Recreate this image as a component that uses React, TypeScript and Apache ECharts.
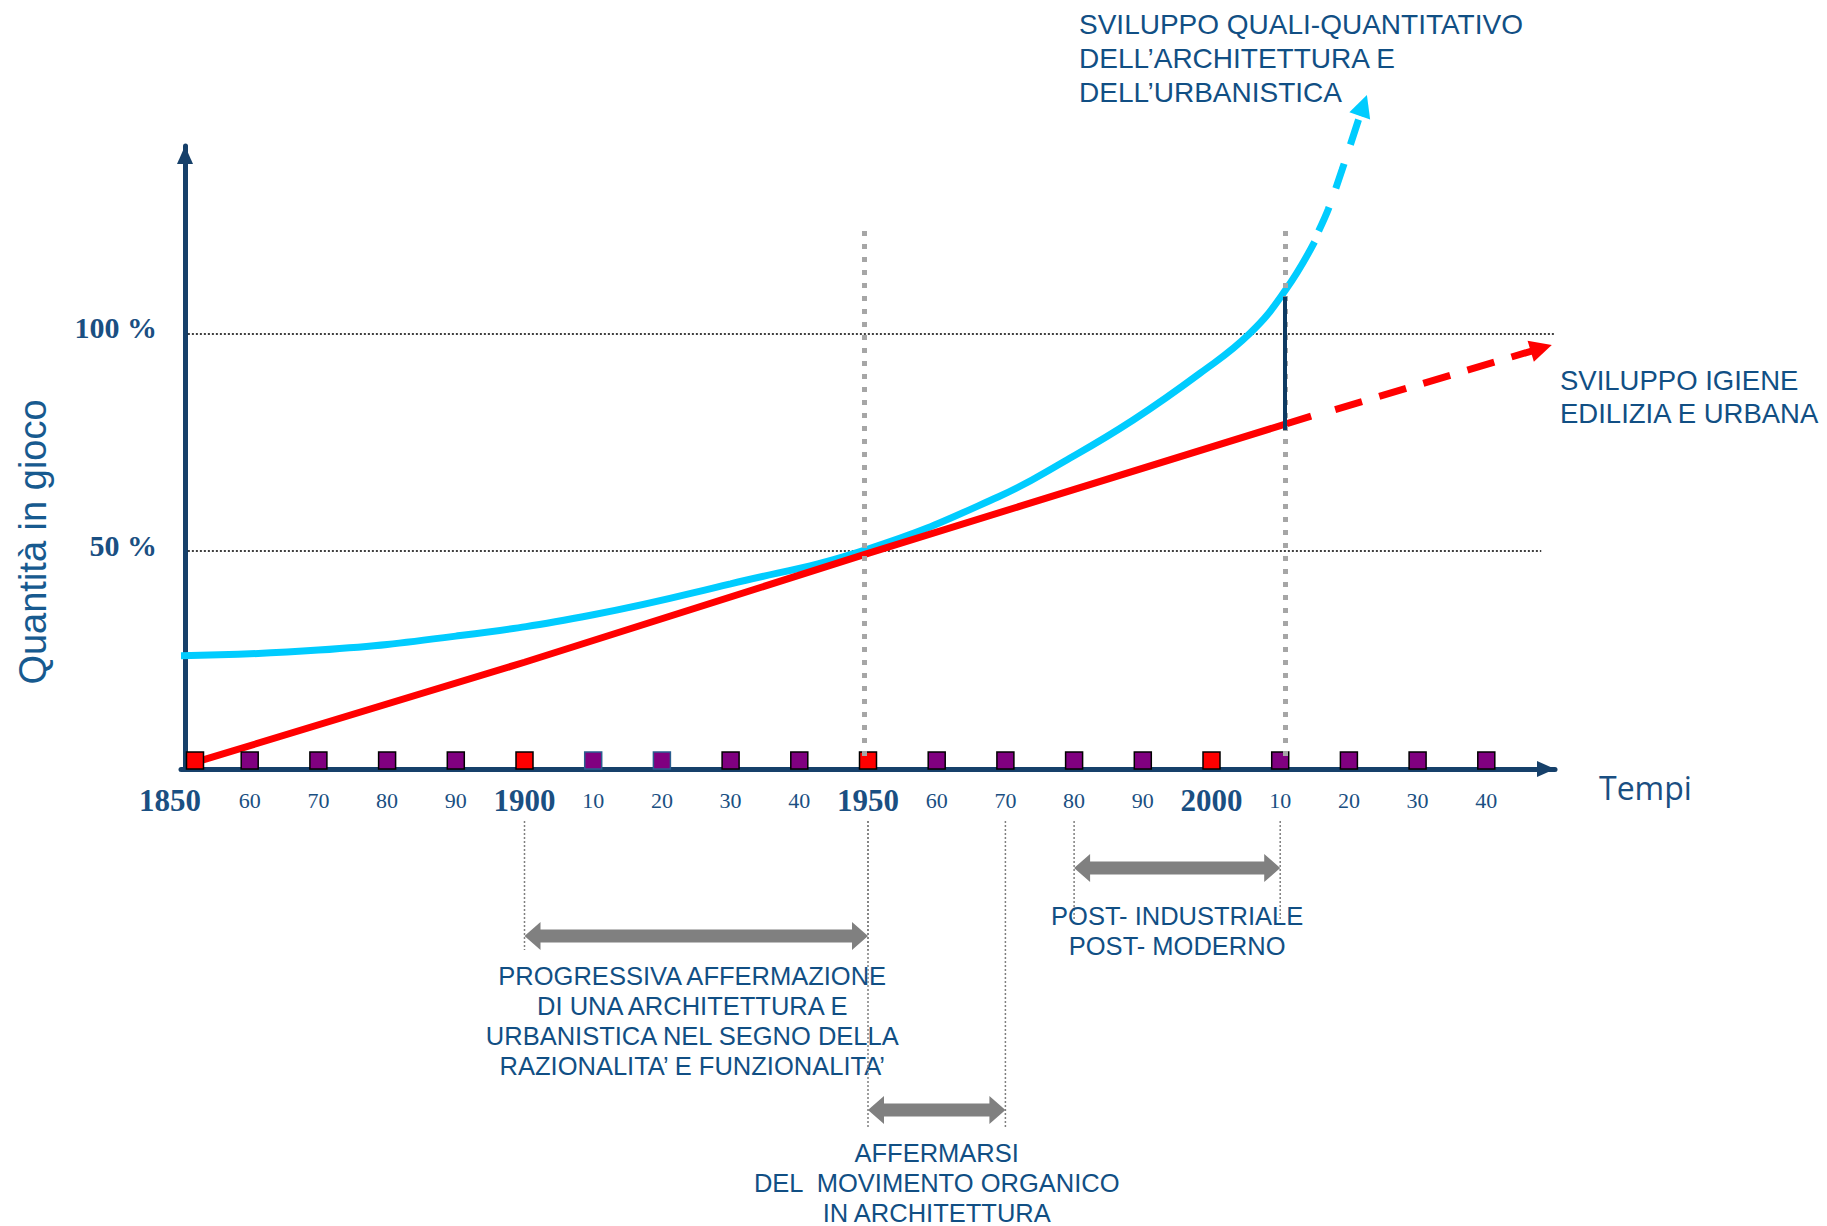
import React, { useEffect, useRef } from "react";
import * as echarts from "echarts";

// ---------- data ----------
const DECADES = [1850, 1860, 1870, 1880, 1890, 1900, 1910, 1920, 1930, 1940, 1950, 1960, 1970, 1980, 1990, 2000, 2010, 2020, 2030, 2040];
const MAJOR_YEARS = [1850, 1900, 1950, 2000];
const SOFT_BORDER_YEARS = [1910, 1920];
const Y_TICKS = [50, 100];

// red: igiene edilizia e urbana
const RED_SOLID: [number, number][] = [[1852, 1.5], [1900, 24.5], [1950, 49.5], [2014.5, 81]];
const RED_DASHED: [number, number][] = [[2018, 82.5], [2048, 96.6]];

// blue: sviluppo quali-quantitativo
const BLUE_SOLID: [number, number][] = [
  [1850, 26], [1870, 27.3], [1890, 30.5], [1910, 35.4], [1930, 42.5], [1950, 50.5],
  [1969, 62.5], [1979, 71], [1988.6, 80.1], [1998.3, 90.8], [2005.6, 100], [2010.8, 110], [2015, 121],
];
const BLUE_DASHED: [number, number][] = [[2015.6, 123.5], [2017, 128.5], [2019, 137.5], [2021.6, 150]];
const BLUE_HEAD: [number, number][] = [[2021.6, 150], [2022.1, 152.3]];

const MILESTONES = [1949.4, 2010.7];
const MILESTONE_RANGE = [3, 124];
const GAP_YEAR = 2010.7;
const GAP_RANGE = [77.8, 108.4];

const PERIOD_START = [1900, 1950, 1980];
const PERIOD_END = [1950, 1970, 2010];
const PERIOD_TEXT = [
  "PROGRESSIVA AFFERMAZIONE\nDI UNA ARCHITETTURA E\nURBANISTICA NEL SEGNO DELLA\nRAZIONALITA’ E FUNZIONALITA’",
  "AFFERMARSI\nDEL  MOVIMENTO ORGANICO\nIN ARCHITETTURA",
  "POST- INDUSTRIALE\nPOST- MODERNO",
];

// ---------- styles / layout ----------
const NAVY = "#16406a";
const BLUE = "#00CCFF";
const RED = "#FF0000";
const PURPLE = "#800080";
const TEXT_BLUE = "#114f84";
const LABEL_BLUE = "#1a4f82";
const SANS = '"Liberation Sans", Arial, sans-serif';
const SERIF = '"Liberation Serif", "Times New Roman", serif';

const PERIOD_LAYOUT = [
  { arrowY: 936, guideTop: 821, guideBottom: 950, textTop: 961, dx: -4 },
  { arrowY: 1110, guideTop: 821, guideBottom: 1127, textTop: 1138, dx: 0 },
  { arrowY: 868, guideTop: 821, guideBottom: 920, textTop: 901, dx: 0 },
];

function buildOption(): any {
  const squares = DECADES.map((y) => ({
    value: [y, 0],
    symbolOffset: y === DECADES[0] ? [14, -8.5] : [0, -8.5],
    itemStyle: {
      color: MAJOR_YEARS.includes(y) ? RED : PURPLE,
      borderColor: SOFT_BORDER_YEARS.includes(y) ? "#2a5d8f" : "#000",
      borderWidth: 1.5,
      opacity: 1,
    },
  }));

  const periods = PERIOD_START.map((s, i) => [s, PERIOD_END[i]]);

  return {
    animation: false,
    backgroundColor: "#ffffff",
    grid: { left: 181, top: 146, width: 1374, height: 623 },
    xAxis: {
      type: "value",
      min: 1850,
      max: 2050,
      interval: 10,
      axisLine: {
        show: true,
        onZero: false,
        symbol: ["none", "triangle"],
        symbolSize: [16, 18],
        symbolOffset: [0, -9],
        lineStyle: { color: NAVY, width: 5 },
      },
      axisTick: { show: false },
      splitLine: { show: false },
      axisLabel: {
        margin: 13,
        showMinLabel: true,
        showMaxLabel: true,
        formatter: (v: number) =>
          v >= 2050
            ? ""
            : v === DECADES[0]
            ? `{f|${v}}`
            : MAJOR_YEARS.includes(v)
            ? `{b|${v}}`
            : `{s|${v % 100}}`,
        rich: {
          f: { fontFamily: SERIF, fontWeight: "bold", fontSize: 31, color: LABEL_BLUE, lineHeight: 36, padding: [0, 22, 0, 0] },
          b: { fontFamily: SERIF, fontWeight: "bold", fontSize: 31, color: LABEL_BLUE, lineHeight: 36 },
          s: { fontFamily: SERIF, fontSize: 22, color: LABEL_BLUE, lineHeight: 36 },
        },
      },
      name: "Tempi",
      nameLocation: "end",
      nameGap: 44,
      nameTextStyle: {
        fontFamily: '"Open Sans", sans-serif',
        fontSize: 32,
        color: LABEL_BLUE,
        verticalAlign: "top",
        padding: [2, 0, 0, 0],
      },
    },
    yAxis: {
      type: "value",
      min: 0,
      max: 143,
      interval: 50,
      offset: -4,
      axisLine: {
        show: true,
        onZero: false,
        symbol: ["none", "triangle"],
        symbolSize: [16, 18],
        symbolOffset: [0, -9],
        lineStyle: { color: NAVY, width: 5 },
      },
      axisTick: { show: false },
      splitLine: { show: false },
      axisLabel: {
        margin: 28,
        formatter: (v: number) => (Y_TICKS.includes(v) ? `{p|${v} %}` : ""),
        rich: {
          p: {
            fontFamily: SERIF,
            fontWeight: "bold",
            fontSize: 30,
            color: LABEL_BLUE,
            lineHeight: 34,
            padding: [0, 0, 12, 0],
          },
        },
      },
    },
    graphic: [
      {
        type: "text",
        x: 33,
        y: 542,
        rotation: Math.PI / 2,
        style: {
          text: "Quantità in gioco",
          align: "center",
          verticalAlign: "middle",
          font: `38px ${SANS}`,
          fill: "#175a8f",
        },
      },
      {
        type: "text",
        x: 1079,
        y: 7,
        style: {
          text: "SVILUPPO QUALI-QUANTITATIVO\nDELL’ARCHITETTURA E\nDELL’URBANISTICA",
          align: "left",
          verticalAlign: "top",
          font: `28px ${SANS}`,
          lineHeight: 34,
          fill: TEXT_BLUE,
        },
      },
      {
        type: "text",
        x: 1560,
        y: 364,
        style: {
          text: "SVILUPPO IGIENE\nEDILIZIA E URBANA",
          align: "left",
          verticalAlign: "top",
          font: `27.5px ${SANS}`,
          lineHeight: 33,
          fill: TEXT_BLUE,
        },
      },
    ],
    series: [
      {
        type: "line",
        data: BLUE_SOLID,
        smooth: 0.45,
        showSymbol: false,
        z: 2,
        lineStyle: { color: BLUE, width: 7 },
        markLine: {
          silent: true,
          z: 1,
          symbol: ["none", "none"],
          label: { show: false },
          lineStyle: { color: "#000", width: 1.5, type: [2, 2] },
          data: Y_TICKS.map((t) => [
            { coord: [1851, t] },
            { coord: [t === 100 ? 2050 : 2048, t] },
          ]),
        },
      },
      {
        type: "line",
        data: BLUE_DASHED,
        smooth: 0.3,
        showSymbol: false,
        clip: false,
        z: 2,
        lineStyle: { color: BLUE, width: 7, type: [26, 20] },
      },
      {
        type: "line",
        data: RED_SOLID,
        showSymbol: false,
        z: 3,
        lineStyle: { color: RED, width: 7 },
        markLine: {
          silent: true,
          z: 6,
          symbol: ["none", "none"],
          label: { show: false },
          data: [
            ...MILESTONES.map((m) => [
              { coord: [m, MILESTONE_RANGE[0]], lineStyle: { color: "#a6a6a6", width: 5, type: [5, 8] } },
              { coord: [m, MILESTONE_RANGE[1]] },
            ]),
            [
              { coord: [GAP_YEAR, GAP_RANGE[0]], lineStyle: { color: "#0e3a62", width: 4, type: "solid" } },
              { coord: [GAP_YEAR, GAP_RANGE[1]] },
            ],
          ],
        },
      },
      {
        type: "lines",
        coordinateSystem: "cartesian2d",
        clip: false,
        z: 3,
        symbol: ["none", "triangle"],
        symbolSize: [22, 22],
        data: [
          { coords: RED_DASHED, lineStyle: { color: RED, width: 7, type: [28, 18], opacity: 1 } },
          { coords: BLUE_HEAD, lineStyle: { color: BLUE, width: 7, type: "solid", opacity: 1 } },
        ],
        lineStyle: { opacity: 1 },
      },
      {
        type: "scatter",
        data: squares,
        symbol: "rect",
        symbolSize: [17, 17],
        clip: false,
        z: 5,
      },
      {
        type: "custom",
        coordinateSystem: "cartesian2d",
        clip: false,
        silent: true,
        encode: { x: [0, 1] },
        data: periods,
        z: 4,
        renderItem: (params: any, api: any) => {
          const i = params.dataIndex;
          const x1 = api.coord([api.value(0), 0])[0];
          const x2 = api.coord([api.value(1), 0])[0];
          const L = PERIOD_LAYOUT[i];
          const y = L.arrowY;
          const hl = 16;
          const hh = 14;
          const bt = 6.5;
          const guide = (x: number) => ({
            type: "line",
            shape: { x1: x, y1: L.guideTop, x2: x, y2: L.guideBottom },
            style: { stroke: "#7f7f7f", lineWidth: 1.5, lineDash: [2, 2] },
          });
          return {
            type: "group",
            children: [
              guide(x1),
              guide(x2),
              {
                type: "polygon",
                shape: {
                  points: [
                    [x1, y], [x1 + hl, y - hh], [x1 + hl, y - bt], [x2 - hl, y - bt], [x2 - hl, y - hh],
                    [x2, y], [x2 - hl, y + hh], [x2 - hl, y + bt], [x1 + hl, y + bt], [x1 + hl, y + hh],
                  ],
                },
                style: { fill: "#808080" },
              },
              {
                type: "text",
                x: (x1 + x2) / 2 + L.dx,
                y: L.textTop,
                style: {
                  text: PERIOD_TEXT[i],
                  align: "center",
                  verticalAlign: "top",
                  font: `25.5px ${SANS}`,
                  lineHeight: 30,
                  fill: TEXT_BLUE,
                },
              },
            ],
          };
        },
      },
    ],
  };
}

export default function App() {
  const ref = useRef<HTMLDivElement>(null);
  useEffect(() => {
    if (!ref.current) return;
    const chart = echarts.init(ref.current, null, { renderer: "svg" });
    chart.setOption(buildOption());
    return () => chart.dispose();
  }, []);
  return (
    <div
      ref={ref}
      style={{ position: "fixed", left: 0, top: 0, width: "1827px", height: "1226px", background: "#fff" }}
    />
  );
}
